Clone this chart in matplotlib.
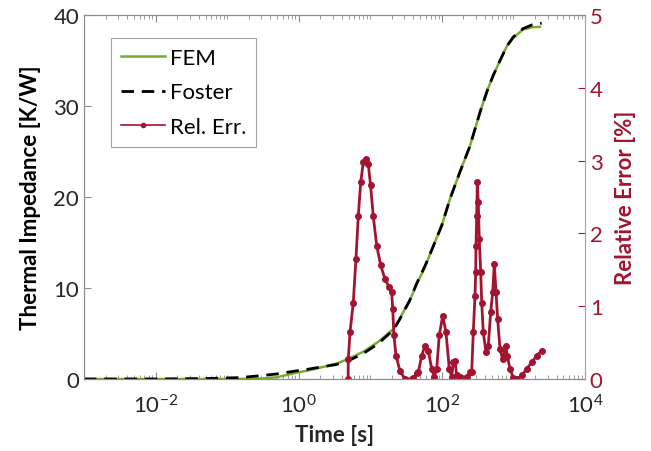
import matplotlib
matplotlib.use("Agg")
import matplotlib.pyplot as plt
from matplotlib.lines import Line2D
from matplotlib.ticker import LogLocator, NullFormatter, FixedLocator

plt.rcParams['font.family'] = ['Lato', 'DejaVu Sans']
plt.rcParams['mathtext.fontset'] = 'custom'
plt.rcParams['mathtext.rm'] = 'Lato'
plt.rcParams['mathtext.it'] = 'Lato'

# FEM thermal impedance curve
t_fem = [0.001, 0.01, 0.05, 0.15, 0.29, 0.49, 0.94, 1.29, 2.0, 3.4, 4.93, 8.0, 13.0,
         21.1, 26.0, 35.9, 44.5, 58.0, 76.0, 100.0, 130.0, 180.0, 247.0, 341.0,
         427.0, 518.0, 650.0, 813.0, 1000.0, 1361.0, 1800.0, 2350.0]
zth_fem = [0.0, 0.0, 0.0, 0.0, 0.05, 0.18, 0.7, 0.9, 1.25, 1.7, 2.2, 3.0, 4.1,
           5.5, 6.7, 8.7, 10.4, 12.3, 14.6, 16.9, 19.8, 22.8, 25.6, 29.3,
           31.6, 33.3, 35.0, 36.6, 37.5, 38.4, 38.65, 38.7]

# Foster network fit
t_foster = [0.001, 0.01, 0.05, 0.15, 0.29, 0.49, 0.94, 1.29, 2.0, 3.4, 4.93, 8.0, 13.0,
            21.1, 26.0, 35.9, 44.5, 58.0, 76.0, 100.0, 130.0, 180.0, 247.0, 341.0,
            427.0, 518.0, 650.0, 813.0, 1000.0, 1361.0, 1800.0, 2480.0]
zth_foster = [0.0, 0.0, 0.05, 0.15, 0.36, 0.55, 0.9, 1.05, 1.3, 1.6, 2.0, 2.8, 3.9,
              5.4, 6.6, 8.7, 10.5, 12.4, 14.6, 16.9, 19.8, 22.8, 25.6, 29.3,
              31.6, 33.3, 35.0, 36.6, 37.6, 38.5, 38.9, 39.1]

# relative error in %
t_err = [4.90, 4.93, 5.21, 5.79, 6.31, 6.80, 7.35, 8.00, 8.63, 9.38, 10.1, 11.0, 12.3,
         14.0, 16.1, 18.4, 19.9, 20.6, 21.4, 22.9, 26.0, 30.5, 37.9, 39.9, 44.5,
         46.9, 52.3, 58.2, 64.7, 72.1, 78.5, 84.7, 92.1, 102.8, 114.3, 127.1,
         137.4, 144.5, 152.8, 161.1, 179.5, 222.3, 247.2, 261.2, 274.8, 290.4,
         297.2, 299.9, 306.9, 312.6, 322.8, 333.4, 349.1, 360.6, 379.3, 414.0,
         445.6, 481.5, 513.6, 540.8, 571.5, 602.6, 649.8, 708.2, 779.9, 820.4,
         895.4, 995.5, 1132.0, 1306.0, 1535.0, 1800.0, 2113.0, 2483.0]
rel_err = [0.0, 0.27, 0.64, 1.05, 1.65, 2.24, 2.70, 2.98, 3.02, 2.95, 2.66, 2.24, 1.83,
           1.56, 1.37, 1.26, 1.19, 0.96, 0.60, 0.32, 0.11, 0.0, 0.0, 0.02, 0.08,
           0.09, 0.32, 0.46, 0.39, 0.14, 0.03, 0.14, 0.60, 0.87, 0.64, 0.14,
           0.03, 0.23, 0.25, 0.05, 0.03, 0.03, 0.09, 0.09, 0.64, 1.14,
           1.47, 1.83, 2.24, 2.70, 2.43, 1.92, 1.47, 1.05, 0.64, 0.37,
           0.46, 0.92, 1.19, 1.58, 1.19, 0.82, 0.41, 0.27, 0.46, 0.32,
           0.14, 0.02, 0.0, 0.05, 0.14, 0.23, 0.32, 0.39]

xticks = [1e-2, 1e0, 1e2, 1e4]
xlabels = ['$10^{-2}$', '$10^{0}$', '$10^{2}$', '$10^{4}$']

green = '#77AC30'
red = '#A2142F'
gray = '#8c8c8c'

fig = plt.figure(figsize=(6.51, 4.52), dpi=100)
ax = fig.add_axes([0.129, 0.1593, 0.7696, 0.8053])
ax2 = ax.twinx()

l1, = ax.plot(t_fem, zth_fem, color=green, lw=1.8, label='FEM')
l2, = ax.plot(t_foster, zth_foster, color='black', lw=2, ls=(0, (4.5, 2.8)), label='Foster')
ax2.plot(t_err, rel_err, color=red, lw=2.0, marker='o', ms=4)
# thinner handle for the legend, like the reference
l3 = Line2D([], [], color=red, lw=1.2, marker='o', ms=3, label='Rel. Err.')

ax.set_xscale('log')
ax.set_xlim(1e-3, 1e4)
ax.set_ylim(0, 40)
ax.set_yticks([0, 10, 20, 30, 40])
ax2.set_ylim(0, 5)
ax2.set_yticks([0, 1, 2, 3, 4, 5])

ax.xaxis.set_major_locator(FixedLocator(xticks))
ax.set_xticklabels(xlabels)
ax.xaxis.set_minor_locator(LogLocator(base=10, subs=range(1, 10), numticks=20))
ax.xaxis.set_minor_formatter(NullFormatter())

ax.tick_params(axis='x', which='major', direction='in', length=5, width=0.8,
               top=True, labelcolor='#262626', labelsize=16, color=gray, pad=10)
ax.tick_params(axis='x', which='minor', direction='in', length=3, width=0.6,
               top=True, color=gray)
ax.tick_params(axis='y', direction='in', length=5, width=0.8, color=gray,
               labelsize=16, labelcolor='#262626', right=False)
ax2.tick_params(axis='y', direction='in', length=5, width=0.8, color=red,
                labelsize=16, labelcolor=red)

for s in ['left', 'bottom', 'top']:
    ax.spines[s].set_color(gray)
    ax2.spines[s].set_color(gray)
ax2.spines['right'].set_color('#d98a9a')
ax.spines['right'].set_visible(False)

ax.set_xlabel('Time [s]', fontsize=16, fontweight='bold', color='#262626', labelpad=6)
ax.set_ylabel('Thermal Impedance [K/W]', fontsize=16, fontweight='bold',
              color='black', labelpad=9)
ax2.set_ylabel('Relative Error [%]', fontsize=16, fontweight='bold', color=red,
               labelpad=9)

leg = ax2.legend(handles=[l1, l2, l3], loc='upper left', bbox_to_anchor=(0.054, 0.937),
                 borderaxespad=0, fontsize=16, frameon=True, fancybox=False,
                 edgecolor=gray, handlelength=2.0, handletextpad=0.2, borderpad=0.45,
                 labelspacing=0.65, numpoints=1)
leg.get_frame().set_linewidth(0.8)

fig.savefig('out.png', dpi=100)
